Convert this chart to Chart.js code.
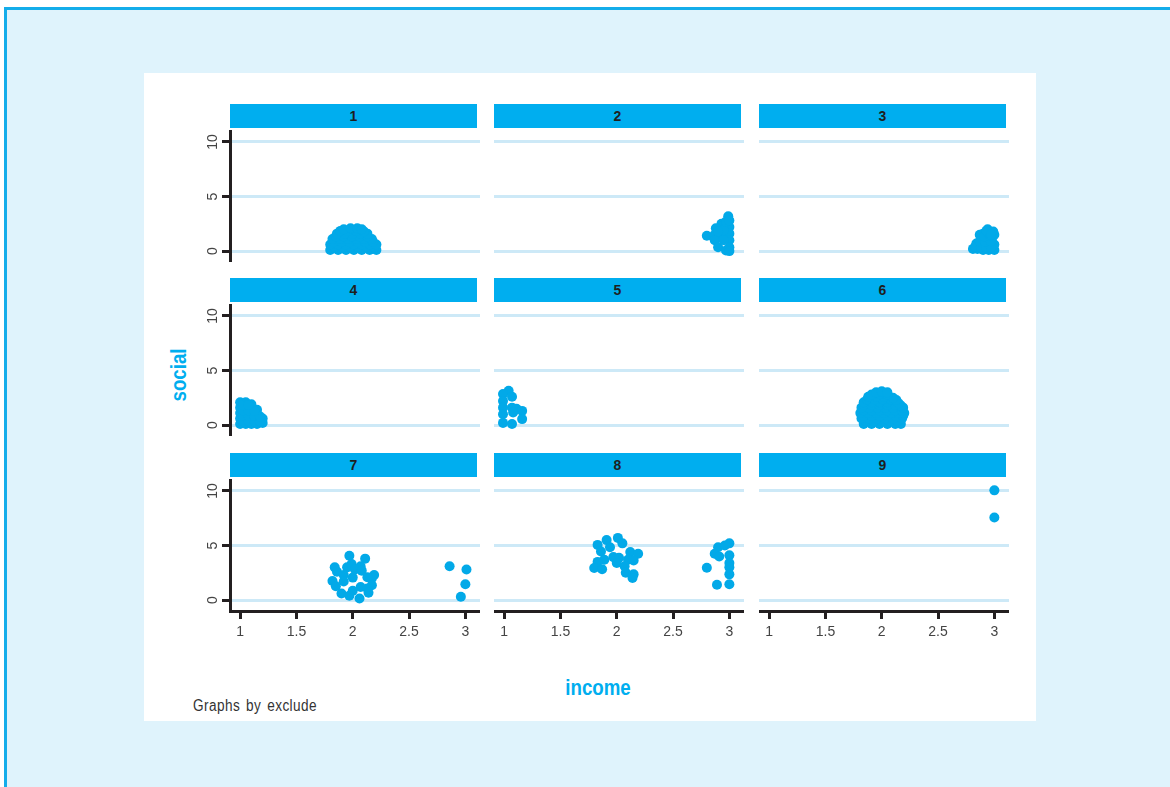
<!DOCTYPE html>
<html>
<head>
<meta charset="utf-8">
<script src="https://cdn.jsdelivr.net/npm/chart.js@4.4.1/dist/chart.umd.min.js"></script>
<style>
  body { margin: 0; background: #ffffff; width: 1170px; height: 787px; overflow: hidden; position: relative;
         font-family: "Liberation Sans", Arial, sans-serif; }
  #frame { position: absolute; left: 4px; top: 7px; right: -10px; bottom: -10px; background: #dff3fc;
           border-left: 3px solid #14adea; border-top: 3px solid #14adea; }
  #sheet { position: absolute; left: 144px; top: 73px; width: 892px; height: 648px; background: #ffffff; }
  canvas { position: absolute; }
  .hdr { position: absolute; width: 247px; height: 24px; background: #00aeef; color: #1e1e1e;
         font-size: 14px; font-weight: bold; text-align: center; line-height: 25px; }
  .axttl { position: absolute; color: #00aeef; font-weight: bold; font-size: 22px; white-space: nowrap; }
  #note { position: absolute; left: 193px; top: 697px; font-size: 16px; color: #333; letter-spacing: 0.5px;
          word-spacing: 2px; white-space: nowrap; transform: scaleX(0.85); transform-origin: left center; }
</style>
</head>
<body>
<div id="frame"></div>
<div id="sheet"></div>
<div class="axttl" style="left:598px; top:688px; transform:translate(-50%,-50%) scaleX(0.85);">income</div>
<div class="axttl" style="left:179px; top:375px; transform:translate(-50%,-50%) rotate(-90deg) scaleX(0.85);">social</div>
<div id="note">Graphs by exclude</div>
<script>
// facet labels and tick values
const panelLabels = ['1', '2', '3', '4', '5', '6', '7', '8', '9'];
const xTicks = [1, 1.5, 2, 2.5, 3];
const yTicks = [0, 5, 10];

// income / social pairs for each value of exclude
const income1 = [1.80,1.87,1.94,2.01,2.08,2.15,2.21, 1.84,1.91,1.98,2.05,2.12,2.19,
                 1.80,1.87,1.94,2.01,2.08,2.15,2.21, 1.83,1.90,1.97,2.04,2.11,2.18,
                 1.82,1.89,1.96,2.03,2.10,2.17, 1.85,1.92,1.99,2.06,2.13,
                 1.86,1.93,2.00,2.07,2.13, 1.89,1.96,2.03,2.10, 1.92,1.98,2.04,2.08];
const social1 = [0.1,0.1,0.1,0.1,0.1,0.1,0.1, 0.35,0.35,0.35,0.35,0.35,0.35,
                 0.6,0.6,0.6,0.6,0.6,0.6,0.6, 0.85,0.85,0.85,0.85,0.85,0.85,
                 1.1,1.1,1.1,1.1,1.1,1.1, 1.35,1.35,1.35,1.35,1.35,
                 1.6,1.6,1.6,1.6,1.6, 1.85,1.85,1.85,1.8, 2.0,2.1,2.1,2.0];

const income2 = [2.99,2.93,3.00,2.88,2.80,2.87,2.92,3.00,2.87,3.00,2.90,3.00,2.97,3.00,2.95,2.97,3.00,2.95,2.90];
const social2 = [3.2,2.5,2.2,2.1,1.4,1.5,1.45,1.6,1.0,1.0,0.35,0.35,0.05,0.0,1.9,2.7,2.8,1.0,1.8];

const income3 = [2.81,2.85,2.90,2.95,3.00,2.84,2.90,2.95,3.00,2.88,2.93,2.98,3.00,2.90,2.95,2.94,2.99,2.87,
                 2.83,2.88,2.93,2.97,2.87,2.92,2.97,2.91,2.96,2.93,2.97];
const social3 = [0.2,0.2,0.1,0.1,0.1,0.7,0.6,0.5,0.6,1.2,1.1,1.2,1.5,1.6,1.7,2.0,1.8,1.5,
                 0.4,0.35,0.3,0.35,0.9,0.85,0.9,1.35,1.4,1.85,1.5];

const income4 = [1.00,1.00,1.00,1.00,1.00, 1.05,1.05,1.05,1.05,1.05, 1.10,1.10,1.10,1.10,1.10, 1.15,1.15,1.15,1.15, 1.20,1.20,
                 1.025,1.075,1.125,1.175, 1.025,1.075,1.125,1.175, 1.025,1.075,1.125, 1.025,1.075];
const social4 = [0.1,0.6,1.1,1.6,2.1, 0.1,0.6,1.1,1.6,2.1, 0.1,0.6,1.1,1.6,1.9, 0.1,0.5,1.0,1.4, 0.2,0.6,
                 0.35,0.35,0.35,0.35, 0.85,0.85,0.85,0.8, 1.35,1.35,1.3, 1.85,1.85];

const income5 = [1.04,0.99,1.07,0.99,0.99,1.07,1.11,1.16,0.99,1.08,1.16,0.99,1.07];
const social5 = [3.15,2.85,2.6,2.2,1.6,1.6,1.5,1.3,1.0,1.15,0.55,0.2,0.1];

const income6 = [1.84,1.91,1.98,2.05,2.12,2.17, 1.86,1.93,2.00,2.07,2.14,
                 1.82,1.89,1.96,2.03,2.10,2.18, 1.84,1.91,1.98,2.05,2.12,2.19,
                 1.81,1.88,1.95,2.02,2.09,2.15,2.20, 1.84,1.91,1.98,2.05,2.12,2.18,
                 1.82,1.89,1.96,2.03,2.10,2.19, 1.84,1.91,1.98,2.05,2.12,2.17,
                 1.84,1.91,1.98,2.05,2.15, 1.87,1.94,2.01,2.08,2.13,
                 1.88,1.95,2.02,2.10, 1.91,1.98,2.05,
                 1.95,2.00,2.05];
const social6 = [0.1,0.1,0.1,0.1,0.1,0.1, 0.35,0.35,0.35,0.35,0.35,
                 0.6,0.6,0.6,0.6,0.6,0.6, 0.85,0.85,0.85,0.85,0.85,0.85,
                 1.1,1.1,1.1,1.1,1.1,1.1,1.1, 1.35,1.35,1.35,1.35,1.35,1.35,
                 1.6,1.6,1.6,1.6,1.6,1.6, 1.85,1.85,1.85,1.85,1.85,1.8,
                 2.1,2.1,2.1,2.1,2.0, 2.35,2.35,2.35,2.35,2.3,
                 2.6,2.6,2.6,2.5, 2.8,2.85,2.8,
                 3.0,3.1,3.0];

const income7 = [1.97,2.11,1.84,1.95,1.99,2.07,1.86,1.92,2.02,2.08,2.19,2.17,2.13,1.82,1.92,2.00,1.85,2.07,2.17,2.13,1.90,2.00,1.97,2.14,2.06,2.86,3.01,3.00,2.96];
const social7 = [4.06,3.8,3.0,3.0,3.3,3.1,2.6,2.3,2.8,2.7,2.3,2.0,2.1,1.75,1.7,2.06,1.27,1.2,1.36,1.06,0.6,0.85,0.4,0.67,0.15,3.1,2.8,1.45,0.3];

const income8 = [2.01,2.05,1.91,1.83,1.94,1.86,2.12,2.19,1.97,2.02,1.89,1.83,2.10,2.15,2.00,1.80,1.87,2.07,2.08,2.15,2.14,2.80,2.90,2.87,2.91,2.96,3.00,3.00,3.00,3.00,3.00,3.00,2.89];
const social8 = [5.7,5.2,5.5,5.06,4.85,4.45,4.4,4.24,3.94,3.88,3.7,3.5,3.7,3.64,3.4,2.94,2.82,3.1,2.5,2.36,2.03,2.97,4.85,4.24,4.0,5.0,5.2,4.1,3.4,3.0,2.36,1.45,1.4];

const income9 = [3.00, 3.00];
const social9 = [10.06, 7.57];

const panelIncome = [income1, income2, income3, income4, income5, income6, income7, income8, income9];
const panelSocial = [social1, social2, social3, social4, social5, social6, social7, social8, social9];

const fontFam = '"Liberation Sans", Arial, sans-serif';
const colLeft = [230, 494, 759];
const rowTop = [130, 304, 479];
const plotW = 250, plotH = 132;
const hdrTop = [104, 278, 453];
const axisCol = '#231f20';

// y tick labels are drawn turned, as in the original
const turnedYLabels = {
  id: 'turnedYLabels',
  afterDraw(chart, args, opts) {
    if (!opts.show) return;
    const ys = chart.scales.y, ctx = chart.ctx;
    ctx.save();
    ctx.font = '14px ' + fontFam;
    ctx.fillStyle = '#444';
    ctx.textAlign = 'center';
    ctx.textBaseline = 'middle';
    ys.ticks.forEach(t => {
      ctx.save();
      ctx.translate(ys.right - 17, ys.getPixelForValue(t.value));
      ctx.rotate(-Math.PI / 2);
      ctx.fillText(String(t.value), 0, 0);
      ctx.restore();
    });
    ctx.restore();
  }
};

function makePanel(i) {
  const r = Math.floor(i / 3), c = i % 3;
  const leftCol = c === 0, bottomRow = r === 2;

  const hdr = document.createElement('div');
  hdr.className = 'hdr';
  hdr.style.left = colLeft[c] + 'px';
  hdr.style.top = hdrTop[r] + 'px';
  hdr.textContent = panelLabels[i];
  document.body.appendChild(hdr);

  const cv = document.createElement('canvas');
  const w = plotW + (leftCol ? 40 : 0), h = plotH + (bottomRow ? 40 : 0);
  cv.width = w; cv.height = h;
  cv.style.width = w + 'px'; cv.style.height = h + 'px';
  cv.style.left = (colLeft[c] - (leftCol ? 40 : 0)) + 'px';
  cv.style.top = rowTop[r] + 'px';
  document.body.appendChild(cv);

  const pts = panelIncome[i].map((x, k) => ({ x: x, y: panelSocial[i][k] }));

  new Chart(cv.getContext('2d'), {
    type: 'scatter',
    data: {
      datasets: [
        { data: pts, pointRadius: 5, pointBackgroundColor: '#02a9e8', pointBorderWidth: 0, pointHoverRadius: 5 },
        { data: pts, pointRadius: 0.7, pointBackgroundColor: '#123a4c', pointBorderWidth: 0, pointHoverRadius: 0.7 }
      ]
    },
    options: {
      responsive: false,
      animation: false,
      events: [],
      layout: { padding: 0, autoPadding: false },
      plugins: {
        legend: { display: false },
        tooltip: { enabled: false },
        turnedYLabels: { show: leftCol }
      },
      scales: {
        x: {
          type: 'linear',
          min: 0.91,
          max: 3.13,
          display: bottomRow,
          afterBuildTicks: s => { s.ticks = xTicks.map(v => ({ value: v })); },
          afterFit: s => { s.height = bottomRow ? 40 : 0; },
          grid: { drawOnChartArea: false, drawTicks: true, tickLength: 8, tickColor: axisCol, tickWidth: 3 },
          border: { display: true, color: axisCol, width: 3 },
          ticks: { color: '#444', font: { family: fontFam, size: 14 }, padding: 5, maxRotation: 0,
                   callback: v => String(v) }
        },
        y: {
          type: 'linear',
          min: -1,
          max: 11.1,
          afterBuildTicks: s => { s.ticks = yTicks.map(v => ({ value: v })); },
          afterFit: s => { s.width = leftCol ? 40 : 0; },
          grid: { color: '#cde9f7', lineWidth: 3, drawTicks: leftCol, tickLength: 8, tickColor: axisCol, tickWidth: 3 },
          border: { display: leftCol, color: axisCol, width: 3 },
          ticks: { display: false }
        }
      }
    },
    plugins: [turnedYLabels]
  });
}

for (let i = 0; i < 9; i++) makePanel(i);
</script>
</body>
</html>
